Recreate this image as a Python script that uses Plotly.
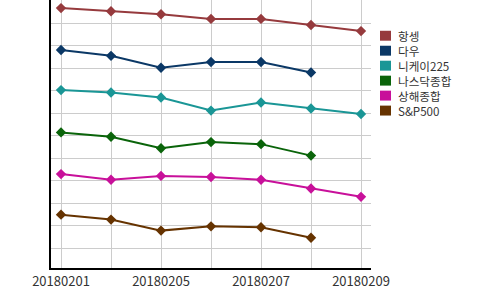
import plotly.graph_objects as go

dates = ["20180201", "20180202", "20180205", "20180206", "20180207", "20180208", "20180209"]
tick_labels = ["20180201", "", "20180205", "", "20180207", "", "20180209"]

names = ["항셍", "다우", "니케이225", "나스닥종합", "상해종합", "S&P500"]
colors = ["#963A3D", "#0B3866", "#1A9696", "#0A640A", "#C8109A", "#663300"]

hangseng = [11.67, 11.53, 11.40, 11.19, 11.19, 10.92, 10.65]
dow = [9.81, 9.55, 9.02, 9.28, 9.28, 8.81, None]
nikkei = [8.03, 7.92, 7.70, 7.12, 7.48, 7.21, 6.97]
nasdaq = [6.15, 5.96, 5.45, 5.72, 5.63, 5.12, None]
shanghai = [4.30, 4.05, 4.22, 4.17, 4.05, 3.66, 3.29]
sp500 = [2.50, 2.28, 1.79, 1.98, 1.94, 1.47, None]

series = [hangseng, dow, nikkei, nasdaq, shanghai, sp500]

# layout geometry (pixels)
W, H = 500, 290
ML, MR, MT, MB = 51, 129, 0, 20
PW, PH = W - ML - MR, H - MT - MB

fig = go.Figure()
for name, color, vals in zip(names, colors, series):
    fig.add_trace(go.Scatter(
        x=dates, y=vals, mode="lines+markers", name=name,
        line=dict(color=color, width=2),
        marker=dict(symbol="diamond", size=8, color=color),
        showlegend=False,
    ))

# custom legend (square swatches, compact rows like the original)
def px_x(px):
    return (px - ML) / PW

def px_y(py):
    return 1 - (py - MT) / PH

legend_fs = 11.6
row_gap = 1.3 * legend_fs
legend_top = 36.0
shapes = []
for i, color in enumerate(colors):
    cy = legend_top + i * row_gap
    shapes.append(dict(type="rect", xref="paper", yref="paper",
                       x0=px_x(380), x1=px_x(391),
                       y0=px_y(cy + 5), y1=px_y(cy - 5),
                       fillcolor=color, line=dict(width=0)))
block_center = legend_top + (len(names) - 1) * row_gap / 2
annos = [dict(xref="paper", yref="paper", x=px_x(395.5), y=px_y(block_center),
              xanchor="left", yanchor="middle", align="left", showarrow=False,
              text="<br>".join(names),
              font=dict(size=legend_fs, color="#333333"))]

font_family = "Noto Sans CJK KR, Noto Sans, sans-serif"
fig.update_layout(
    width=W, height=H,
    margin=dict(l=ML, r=MR, t=MT, b=MB),
    plot_bgcolor="white", paper_bgcolor="white",
    font=dict(family=font_family, size=13, color="#333333"),
    showlegend=False,
    shapes=shapes, annotations=annos,
    xaxis=dict(
        type="category", categoryorder="array", categoryarray=dates,
        tickmode="array", tickvals=dates, ticktext=tick_labels,
        range=[-0.2, 6.2],
        showgrid=True, gridcolor="#cccccc", gridwidth=1,
        showline=True, linecolor="black", linewidth=2,
        ticks="", ticklen=0,
        tickfont=dict(size=13, color="#333333"),
    ),
    yaxis=dict(
        range=[0.13, 12.03], tick0=0, dtick=1,
        showgrid=True, gridcolor="#cccccc", gridwidth=1,
        showline=True, linecolor="black", linewidth=2,
        showticklabels=False, zeroline=False, ticks="",
    ),
)

fig.write_html("out.html")
